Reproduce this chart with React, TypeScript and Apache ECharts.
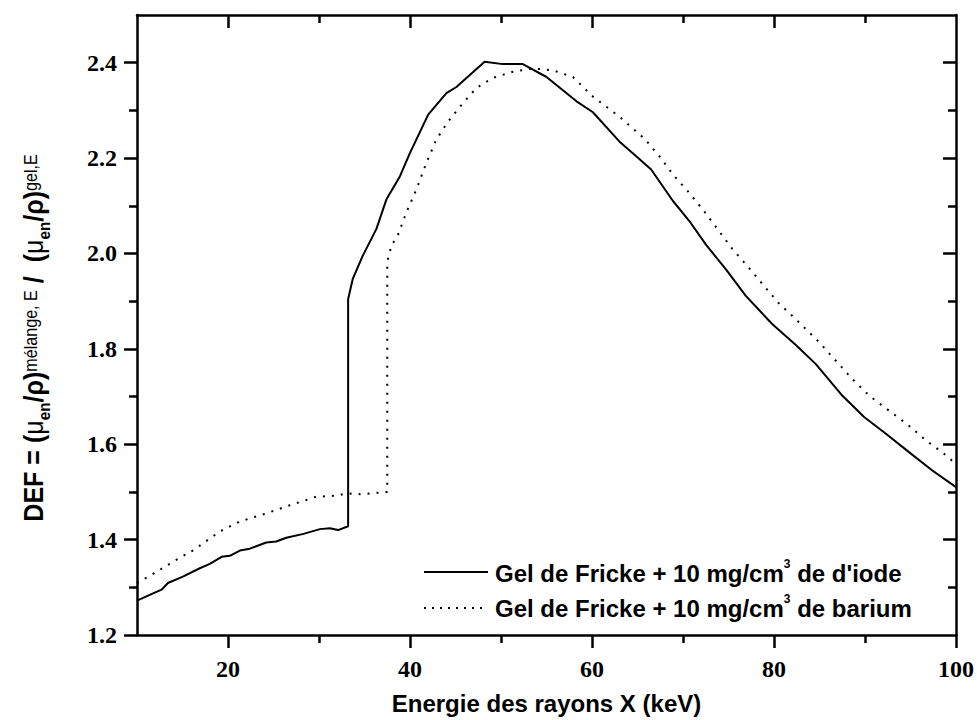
import React, { useEffect, useRef } from 'react';
import * as echarts from 'echarts';

// ---- Data ----
const iodeEnergy = [10, 11.4, 12.7, 13.4, 15.1, 16.9, 18.0, 19.3, 20.2, 21.3, 22.4, 24.2, 25.3, 26.4, 28.3, 30.1, 31.2, 32.1, 33.2, 33.2, 33.7, 34.8, 36.3, 37.4, 38.9, 40.0, 42.0, 44.0, 45.1, 46.2, 48.2, 50.2, 52.4, 55.0, 58.3, 60.1, 63.0, 65.2, 66.5, 68.9, 70.7, 72.5, 74.7, 76.9, 79.8, 82.4, 84.6, 87.5, 89.9, 92.3, 94.8, 97.4, 100];
const iodeDef = [1.272, 1.284, 1.295, 1.309, 1.323, 1.340, 1.349, 1.364, 1.366, 1.377, 1.381, 1.394, 1.396, 1.404, 1.412, 1.422, 1.424, 1.420, 1.428, 1.904, 1.946, 1.995, 2.051, 2.113, 2.162, 2.211, 2.291, 2.336, 2.349, 2.368, 2.402, 2.397, 2.397, 2.370, 2.319, 2.296, 2.235, 2.198, 2.176, 2.110, 2.068, 2.019, 1.967, 1.911, 1.852, 1.808, 1.768, 1.702, 1.657, 1.622, 1.584, 1.545, 1.510];

const bariumEnergy = [10, 12.2, 14.0, 16.2, 19.1, 21.3, 24.2, 26.8, 29.7, 31.9, 33.0, 34.8, 36.3, 37.5, 37.5, 37.95, 38.7, 39.6, 40.7, 41.8, 42.9, 44.2, 45.8, 47.3, 49.1, 51.3, 53.5, 55.7, 57.9, 60.1, 63.0, 65.8, 67.4, 69.0, 70.7, 72.3, 73.8, 75.4, 77.1, 78.9, 80.6, 82.2, 84.96, 86.8, 88.6, 90.45, 92.6, 94.7, 96.7, 98.9, 100];
const bariumDef = [1.309, 1.333, 1.354, 1.378, 1.417, 1.438, 1.455, 1.472, 1.490, 1.492, 1.497, 1.495, 1.498, 1.500, 1.982, 2.016, 2.040, 2.086, 2.134, 2.190, 2.239, 2.277, 2.315, 2.347, 2.368, 2.381, 2.388, 2.384, 2.370, 2.329, 2.287, 2.240, 2.204, 2.163, 2.127, 2.089, 2.051, 2.010, 1.973, 1.932, 1.894, 1.866, 1.814, 1.775, 1.737, 1.702, 1.671, 1.641, 1.608, 1.577, 1.558];

const xMajorTicks = [20, 40, 60, 80, 100];
const xMinorTicks = [30, 50, 70, 90];
const xTopMajorTicks = [20, 40, 60, 80];
const yMajorTicks = [1.2, 1.4, 1.6, 1.8, 2.0, 2.2, 2.4];
const yMinorTicks = [1.3, 1.5, 1.7, 1.9, 2.1, 2.3];
const yRightMajorTicks = [1.4, 1.6, 1.8, 2.0, 2.2, 2.4];

const xTitle = 'Energie des rayons X (keV)';
const legendIode = "{t|Gel de Fricke + 10 mg/cm}{s|3}{t| de d'iode}";
const legendBarium = '{t|Gel de Fricke + 10 mg/cm}{s|3}{t| de barium}';
const yTitle = '{m|DEF = (}{mu|μ}{sub|en}{m|/ρ)}{sup|mélange, E}{m| /  (}{mu|μ}{sub|en}{m|/ρ)}{sup|gel,E}';

const BLACK = '#000000';
const SANS = 'Liberation Sans, Arial, sans-serif';
const SERIF = 'Liberation Serif, Times New Roman, serif';

const mkLine = (show: boolean) => ({ show, onZero: false, lineStyle: { color: BLACK, width: 2.5 } });
const mkTick = (values: number[], length: number, inside: boolean) => ({
  show: true, inside, customValues: values, length, lineStyle: { color: BLACK, width: 2.5 },
});

export default function App() {
  const ref = useRef<HTMLDivElement>(null);
  useEffect(() => {
    if (!ref.current) return;
    const chart = echarts.init(ref.current, undefined, { renderer: 'svg' });
    const labelStyle = { color: BLACK, fontFamily: SERIF, fontWeight: 'bold', fontSize: 24 };
    const legendRich = {
      t: { fontFamily: SANS, fontWeight: 'bold', fontSize: 24, fill: BLACK },
      s: { fontFamily: SANS, fontWeight: 'bold', fontSize: 12, fill: BLACK, padding: [0, 0, 19, 0] },
    };
    chart.setOption({
      animation: false,
      backgroundColor: '#fff',
      grid: { left: 137, right: 20, top: 15, bottom: 83, containLabel: false },
      xAxis: [
        {
          type: 'value', min: 10, max: 100, position: 'bottom',
          axisLine: mkLine(true),
          axisTick: mkTick(xMajorTicks, 13, false),
          axisLabel: { show: true, customValues: xMajorTicks, margin: 22, ...labelStyle },
          splitLine: { show: false },
          name: xTitle, nameLocation: 'middle', nameGap: 56,
          nameTextStyle: { color: BLACK, fontFamily: SANS, fontWeight: 'bold', fontSize: 24 },
        },
        {
          type: 'value', min: 10, max: 100, position: 'bottom',
          axisLine: mkLine(false),
          axisTick: mkTick(xMinorTicks, 8, false),
          axisLabel: { show: false }, splitLine: { show: false },
        },
        {
          type: 'value', min: 10, max: 100, position: 'top',
          axisLine: mkLine(true),
          axisTick: mkTick(xTopMajorTicks, 13, true),
          axisLabel: { show: false }, splitLine: { show: false },
        },
        {
          type: 'value', min: 10, max: 100, position: 'top',
          axisLine: mkLine(false),
          axisTick: mkTick(xMinorTicks, 8, true),
          axisLabel: { show: false }, splitLine: { show: false },
        },
      ],
      yAxis: [
        {
          type: 'value', min: 1.2, max: 2.5, position: 'left',
          axisLine: mkLine(true),
          axisTick: mkTick(yMajorTicks, 13, false),
          axisLabel: { show: true, customValues: yMajorTicks, margin: 20, formatter: (v: number) => v.toFixed(1), ...labelStyle },
          splitLine: { show: false },
        },
        {
          type: 'value', min: 1.2, max: 2.5, position: 'left',
          axisLine: mkLine(false),
          axisTick: mkTick(yMinorTicks, 8, false),
          axisLabel: { show: false }, splitLine: { show: false },
        },
        {
          type: 'value', min: 1.2, max: 2.5, position: 'right',
          axisLine: mkLine(true),
          axisTick: mkTick(yRightMajorTicks, 13, true),
          axisLabel: { show: false }, splitLine: { show: false },
        },
        {
          type: 'value', min: 1.2, max: 2.5, position: 'right',
          axisLine: mkLine(false),
          axisTick: mkTick(yMinorTicks, 8, true),
          axisLabel: { show: false }, splitLine: { show: false },
        },
      ],
      series: [
        {
          name: 'iode', type: 'line', xAxisIndex: 0, yAxisIndex: 0,
          data: iodeEnergy.map((e, i) => [e, iodeDef[i]]),
          symbol: 'none', showSymbol: false,
          lineStyle: { color: BLACK, width: 2 },
        },
        {
          name: 'barium', type: 'line', xAxisIndex: 0, yAxisIndex: 0,
          data: bariumEnergy.map((e, i) => [e, bariumDef[i]]),
          symbol: 'none', showSymbol: false,
          lineStyle: { color: BLACK, width: 2, type: [2, 7], cap: 'butt' },
        },
      ],
      graphic: [
        {
          type: 'text', x: 34, y: 338, rotation: Math.PI / 2, scaleX: 0.895,
          style: {
            text: yTitle, align: 'center', verticalAlign: 'middle', fill: BLACK,
            rich: {
              m: { fontFamily: SANS, fontWeight: 'bold', fontSize: 28, fill: BLACK },
              mu: { fontFamily: SANS, fontWeight: 'normal', fontSize: 28, fill: BLACK },
              sub: { fontFamily: SANS, fontWeight: 'bold', fontSize: 17, fill: BLACK, padding: [20, 0, 0, 0] },
              sup: { fontFamily: SANS, fontWeight: 'normal', fontSize: 18, fill: BLACK, padding: [0, 0, 6, 0] },
            },
          },
        },
        { type: 'line', shape: { x1: 424, y1: 572, x2: 488, y2: 572 }, style: { stroke: BLACK, lineWidth: 2 } },
        { type: 'line', shape: { x1: 424, y1: 608, x2: 486, y2: 608 }, style: { stroke: BLACK, lineWidth: 2, lineDash: [2, 6] } },
        { type: 'text', x: 495, y: 573, style: { text: legendIode, align: 'left', verticalAlign: 'middle', rich: legendRich } },
        { type: 'text', x: 495, y: 608, style: { text: legendBarium, align: 'left', verticalAlign: 'middle', rich: legendRich } },
      ],
    });
    return () => chart.dispose();
  }, []);
  return <div ref={ref} style={{ position: 'absolute', left: 0, top: 0, width: 977, height: 720, background: '#fff' }} />;
}
